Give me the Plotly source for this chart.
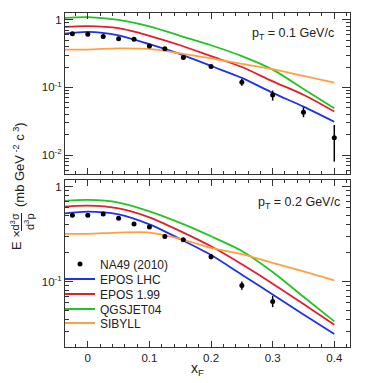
import plotly.graph_objects as go

# NA49 (2010) data points
xf_top = [-0.025, 0.0, 0.025, 0.05, 0.075, 0.1, 0.125, 0.155, 0.2, 0.25, 0.3, 0.35, 0.4]
na49_top = [0.62, 0.61, 0.566, 0.523, 0.517, 0.41, 0.372, 0.277, 0.204, 0.119, 0.0774, 0.0429, 0.018]
na49_top_up = [0.015, 0.015, 0.014, 0.013, 0.013, 0.012, 0.012, 0.012, 0.009, 0.014, 0.0123, 0.0079, 0.0098]
na49_top_dn = [0.015, 0.015, 0.014, 0.013, 0.013, 0.012, 0.012, 0.012, 0.009, 0.013, 0.0136, 0.0066, 0.010]

xf_bot = [-0.025, 0.0, 0.025, 0.05, 0.075, 0.1, 0.125, 0.155, 0.2, 0.25, 0.3]
na49_bot = [0.50, 0.50, 0.516, 0.465, 0.405, 0.376, 0.298, 0.275, 0.183, 0.0908, 0.0616]
na49_bot_up = [0.012, 0.012, 0.012, 0.011, 0.010, 0.010, 0.009, 0.012, 0.012, 0.009, 0.0091]
na49_bot_dn = [0.012, 0.012, 0.012, 0.011, 0.010, 0.010, 0.009, 0.012, 0.011, 0.0088, 0.0079]

# model curves (pT = 0.1 top, pT = 0.2 bottom)
xm = [-0.05, 0.0, 0.05, 0.1, 0.15, 0.2, 0.25, 0.3, 0.35, 0.4]

epos_lhc_top = [0.60, 0.664, 0.59, 0.435, 0.31, 0.207, 0.138, 0.083, 0.052, 0.031]
epos199_top = [0.775, 0.806, 0.75, 0.58, 0.42, 0.29, 0.20, 0.123, 0.078, 0.044]
qgsjet_top = [1.05, 1.095, 0.995, 0.80, 0.58, 0.42, 0.29, 0.183, 0.095, 0.049]
sibyll_top = [0.363, 0.363, 0.378, 0.37, 0.318, 0.268, 0.222, 0.186, 0.148, 0.118]

epos_lhc_bot = [0.51, 0.546, 0.51, 0.40, 0.28, 0.19, 0.118, 0.073, 0.045, 0.028]
epos199_bot = [0.605, 0.63, 0.59, 0.475, 0.34, 0.235, 0.152, 0.095, 0.058, 0.035]
qgsjet_bot = [0.70, 0.724, 0.68, 0.55, 0.415, 0.30, 0.21, 0.126, 0.069, 0.038]
sibyll_bot = [0.318, 0.318, 0.328, 0.328, 0.282, 0.226, 0.194, 0.157, 0.128, 0.103]

models = ["EPOS LHC", "EPOS 1.99", "QGSJET04", "SIBYLL"]
colors = ["#1e32e6", "#e0202a", "#22c422", "#ffa040"]
top_curves = [epos_lhc_top, epos199_top, qgsjet_top, sibyll_top]
bot_curves = [epos_lhc_bot, epos199_bot, qgsjet_bot, sibyll_bot]

FONT = "Liberation Sans, Arial, sans-serif"
TXT = "#222"

# page offset from the default body margin
OFF = 8


# reference pixel -> paper fraction (plot area 65..350 x 13..347 on the page)
def px(x):
    return (x - 65) / 285.0


def py(y):
    return (347 - y) / 334.0


fig = go.Figure()

legend_names = ["legend2", "legend3", "legend4", "legend5"]
for name, col, ytop, ybot, lg in zip(models, colors, top_curves, bot_curves, legend_names):
    fig.add_trace(go.Scatter(x=xm, y=ytop, mode="lines",
                             line=dict(color=col, width=1.8, shape="spline", smoothing=0.8),
                             xaxis="x", yaxis="y", showlegend=False, name=name))
    fig.add_trace(go.Scatter(x=xm, y=ybot, mode="lines",
                             line=dict(color=col, width=1.8, shape="spline", smoothing=0.8),
                             xaxis="x2", yaxis="y2", showlegend=True, name=name, legend=lg))

marker = dict(color="black", size=5)
fig.add_trace(go.Scatter(x=xf_top, y=na49_top, mode="markers", marker=marker, xaxis="x", yaxis="y",
                         error_y=dict(type="data", array=na49_top_up, arrayminus=na49_top_dn,
                                      color="black", thickness=1.5, width=0),
                         showlegend=False, name="NA49 (2010)"))
fig.add_trace(go.Scatter(x=xf_bot, y=na49_bot, mode="markers", marker=marker, xaxis="x2", yaxis="y2",
                         error_y=dict(type="data", array=na49_bot_up, arrayminus=na49_bot_dn,
                                      color="black", thickness=1.5, width=0),
                         showlegend=True, name="NA49 (2010)", legend="legend"))

minor_log = [k * 10 ** e for e in range(-3, 1) for k in range(2, 10)]

common_x = dict(range=[-0.037, 0.4255], dtick=0.1, tick0=0, ticks="inside", ticklen=6, tickcolor="#333",
                showline=True, linecolor="#333", linewidth=1, mirror="allticks", showgrid=False, zeroline=False,
                minor=dict(dtick=0.02, tick0=0, ticks="inside", ticklen=3, tickcolor="#333", showgrid=False),
                tickfont=dict(family=FONT, size=11.5, color=TXT))
common_y = dict(type="log", tickvals=[0.01, 0.1, 1], ticktext=["10<sup>-2</sup>", "10<sup>-1</sup>", "1"],
                ticks="inside", ticklen=8, tickcolor="#333", showline=True, linecolor="#333", linewidth=1,
                mirror="allticks", showgrid=False, zeroline=False,
                minor=dict(tickvals=minor_log, ticks="inside", ticklen=4, tickcolor="#333", showgrid=False),
                tickfont=dict(family=FONT, size=11.5, color=TXT))

annotations = [
    dict(xref="paper", yref="paper", x=px(336), y=py(34), xanchor="right", yanchor="middle", showarrow=False,
         text="p<sub>T</sub> = 0.1 GeV/c", font=dict(family=FONT, size=12.5, color=TXT)),
    dict(xref="paper", yref="paper", x=px(342), y=py(203), xanchor="right", yanchor="middle", showarrow=False,
         text="p<sub>T</sub> = 0.2 GeV/c", font=dict(family=FONT, size=12.5, color=TXT)),
    dict(xref="paper", yref="paper", x=px(197), y=py(369), xanchor="center", yanchor="middle", showarrow=False,
         text="x<sub>F</sub>", font=dict(family=FONT, size=14, color=TXT)),
    # y title pieces (rotated)
    dict(xref="paper", yref="paper", x=px(16), y=py(240), xanchor="center", yanchor="middle", showarrow=False,
         textangle=-90, text="E ×", font=dict(family=FONT, size=13, color=TXT)),
    dict(xref="paper", yref="paper", x=px(14.5), y=py(222), xanchor="center", yanchor="middle", showarrow=False,
         textangle=-90, text="d<sup>3</sup>σ", font=dict(family=FONT, size=11, color=TXT)),
    dict(xref="paper", yref="paper", x=px(29), y=py(222), xanchor="center", yanchor="middle", showarrow=False,
         textangle=-90, text="d<sup>3</sup>p", font=dict(family=FONT, size=11, color=TXT)),
    dict(xref="paper", yref="paper", x=px(19), y=py(165), xanchor="center", yanchor="middle", showarrow=False,
         textangle=-90, text="(mb GeV<sup> -2</sup> c<sup> 3</sup>)",
         font=dict(family=FONT, size=13, color=TXT)),
]

shapes = [dict(type="line", xref="paper", yref="paper", x0=px(21.5), x1=px(21.5), y0=py(213), y1=py(231),
               line=dict(color=TXT, width=1))]

legend_style = dict(xanchor="left", yanchor="middle", bgcolor="rgba(0,0,0,0)", borderwidth=0,
                    font=dict(family=FONT, size=12, color=TXT), itemwidth=30)
legend_rows = [264, 279, 294, 309, 323]

fig.update_layout(
    width=382 - OFF, height=383 - OFF,
    margin=dict(l=65 - OFF, r=32, t=13 - OFF, b=36),
    paper_bgcolor="white", plot_bgcolor="white",
    xaxis=dict(domain=[0, 1], anchor="y", showticklabels=False, **common_x),
    yaxis=dict(domain=[0.518, 1], anchor="x", range=[-2.28, 0.10], **common_y),
    xaxis2=dict(domain=[0, 1], anchor="y2", showticklabels=True, **common_x),
    yaxis2=dict(domain=[0, 0.5], anchor="x2", range=[-1.69, 0.07], **common_y),
    showlegend=True,
    legend=dict(x=px(60), y=py(legend_rows[0]), **legend_style),
    legend2=dict(x=px(60), y=py(legend_rows[1]), **legend_style),
    legend3=dict(x=px(60), y=py(legend_rows[2]), **legend_style),
    legend4=dict(x=px(60), y=py(legend_rows[3]), **legend_style),
    legend5=dict(x=px(60), y=py(legend_rows[4]), **legend_style),
    annotations=annotations,
    shapes=shapes,
    font=dict(family=FONT),
)

fig.write_html("out.html")
